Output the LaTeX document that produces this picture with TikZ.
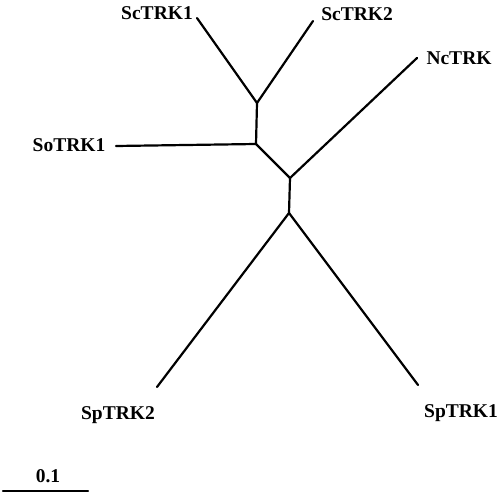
\documentclass[tikz,border=0pt]{standalone}
\usepackage{fontspec}
\setmainfont{Liberation Serif}
\begin{document}
\begin{tikzpicture}[x=1pt,y=-1pt,
  branch/.style={line width=2.2pt,line cap=round},
  lbl/.style={font=\fontsize{19.5}{22}\selectfont\bfseries,inner sep=0pt}]
\useasboundingbox (0,0) rectangle (500,495);
\coordinate (t1) at (197,18);
\coordinate (t2) at (313,21);
\coordinate (a) at (257,103);
\coordinate (b) at (256,144);
\coordinate (so) at (116,146);
\coordinate (c) at (290,178);
\coordinate (nc) at (417,58);
\coordinate (d) at (289,213);
\coordinate (sp2) at (157,387);
\coordinate (sp1) at (418,385);
\coordinate (s0) at (3,491);
\coordinate (s1) at (88,491);
\draw[branch] (t1) -- (a) -- (t2);
\draw[branch] (a) -- (b) -- (so);
\draw[branch] (b) -- (c) -- (nc);
\draw[branch] (c) -- (d) -- (sp2);
\draw[branch] (d) -- (sp1);
\draw[branch] (s0) -- (s1);
\node[lbl] (l1) at (157,13) {ScTRK1};
\node[lbl] (l2) at (357,14) {ScTRK2};
\node[lbl] (l3) at (459,58) {NcTRK};
\node[lbl] (l4) at (69,145) {SoTRK1};
\node[lbl] (l5) at (118,415) {SpTRK2};
\node[lbl] (l6) at (461,413) {SpTRK1};
\node[lbl] (l7) at (48,476) {0.1};
\end{tikzpicture}
\end{document}
